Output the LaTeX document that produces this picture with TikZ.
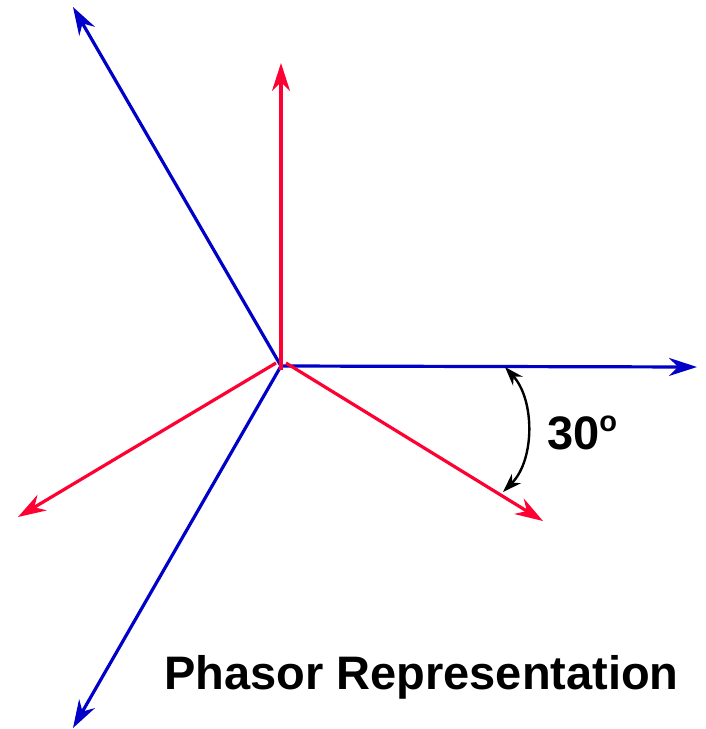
\documentclass[tikz,border=0pt]{standalone}
\usepackage{fontspec}
\setmainfont{Liberation Sans}
\usetikzlibrary{arrows.meta}
\definecolor{phblue}{RGB}{0,0,200}
\definecolor{phred}{RGB}{255,0,51}

\begin{document}
\begin{tikzpicture}[x=1pt, y=-1pt,
    vec/.style={line width=3.2pt, -{Stealth[length=28pt, width=18pt, inset=9pt]}},
    every node/.style={font=\bfseries, inner sep=0pt}]
    \useasboundingbox (0,0) rectangle (705,729);

    % Ursprung und Spitzen
    \coordinate (O) at (281,366);
    \coordinate (Vr) at (697,367);
    \coordinate (Vs) at (73,7);
    \coordinate (Vt) at (73,728);
    \coordinate (Ir) at (281,63);
    \coordinate (Is) at (543,521);
    \coordinate (It) at (18,517);

    % Spannungen
    \draw[vec, phblue] (O) -- (Vr);
    \draw[vec, phblue] (O) -- (Vs);
    \draw[vec, phblue] (O) -- (Vt);

    % Stroeme
    \draw[vec, phred] ([yshift=-4pt]O) -- (Ir);
    \draw[vec, phred] ([shift={(5pt,3pt)}]O) -- (Is);
    \draw[vec, phred] ([shift={(-5pt,3pt)}]O) -- (It);

    % Winkel
    \coordinate (a1) at (505,367);
    \coordinate (a2) at (503,492);
    \draw[line width=2.4pt, {Stealth[length=19pt, width=13pt, inset=6pt]}-{Stealth[length=19pt, width=13pt, inset=6pt]}]
        (a1) .. controls (535,400) and (535,460) .. (a2);
    \node[anchor=base west, font=\bfseries\fontsize{47}{47}\selectfont] (ang) at (547,449) {30\raisebox{0.38em}{\fontsize{29}{29}\selectfont o}};

    \node[anchor=base west, font=\bfseries\fontsize{47}{47}\selectfont] (title) at (164,689) {Phasor Representation};
\end{tikzpicture}
\end{document}
